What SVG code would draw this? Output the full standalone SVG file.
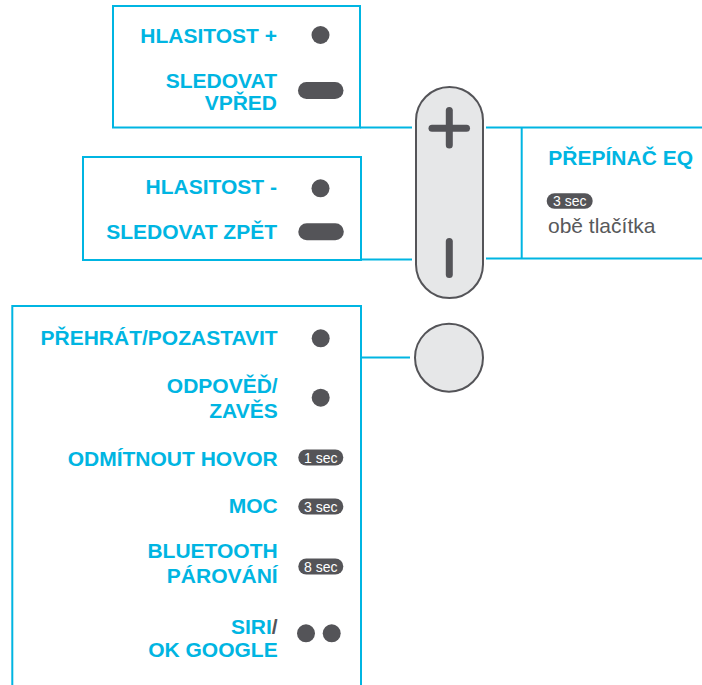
<svg xmlns="http://www.w3.org/2000/svg" width="702" height="685" viewBox="0 0 702 685">
<style>
.lbl{font-family:"Liberation Sans",Arial,sans-serif;font-weight:bold;font-size:21px;fill:#00b5e2;text-anchor:end}
.frame{fill:none;stroke:#00b5e2;stroke-width:2}
.con{fill:none;stroke:#00b5e2;stroke-width:2}
.dot{fill:#545458}
.badge{fill:#545458}
.btxt{font-family:"Liberation Sans",Arial,sans-serif;font-size:14px;fill:#ffffff;text-anchor:middle}
.btn{fill:#e6e7e8;stroke:#545458;stroke-width:2}
.sym{stroke:#545458;stroke-width:7;stroke-linecap:round;fill:none}
</style>
<rect width="702" height="685" fill="#ffffff"/>
<g id="connectors">
<line class="con" x1="360" y1="127.5" x2="412" y2="127.5"/>
<line class="con" x1="361" y1="259.5" x2="412" y2="259.5"/>
<line class="con" x1="486" y1="127.5" x2="702" y2="127.5"/>
<line class="con" x1="486" y1="258.5" x2="702" y2="258.5"/>
<line class="con" x1="361" y1="357.5" x2="410" y2="357.5"/>
</g>
<g id="box-volume-up">
<rect class="frame" x="113" y="6" width="247" height="121.5"/>
<text class="lbl" x="277" y="42.5">HLASITOST +</text>
<circle class="dot" cx="320.5" cy="35" r="9"/>
<text class="lbl" x="277" y="87.5">SLEDOVAT</text>
<text class="lbl" x="277" y="110">VPŘED</text>
<rect class="dot" x="298" y="82" width="45.5" height="17" rx="8.5"/>
</g>
<g id="box-volume-down">
<rect class="frame" x="83" y="157" width="278" height="103"/>
<text class="lbl" x="277" y="194">HLASITOST -</text>
<circle class="dot" cx="320.5" cy="188.3" r="9"/>
<text class="lbl" x="277" y="239.3">SLEDOVAT ZPĚT</text>
<rect class="dot" x="298.3" y="223.3" width="45.5" height="17" rx="8.5"/>
</g>
<g id="box-eq">
<line class="con" x1="521.7" y1="127.5" x2="521.7" y2="258.5"/>
<text class="lbl" x="548.3" y="165" style="text-anchor:start">PŘEPÍNAČ EQ</text>
<rect class="badge" x="546.7" y="193.3" width="46" height="15.5" rx="7.75"/>
<text class="btxt" x="569.7" y="206">3 sec</text>
<text x="548" y="232.7" style="font-family:'Liberation Sans',Arial,sans-serif;font-size:21px;fill:#58595b">obě tlačítka</text>
</g>
<g id="capsule">
<rect class="btn" x="416" y="87" width="67" height="211" rx="33.5"/>
<line class="sym" x1="432" y1="128.3" x2="466.5" y2="128.3"/>
<line class="sym" x1="449.3" y1="110.5" x2="449.3" y2="145"/>
<line class="sym" x1="449.3" y1="241.5" x2="449.3" y2="274.5"/>
</g>
<g id="center-button">
<circle class="btn" cx="449" cy="357.7" r="34"/>
</g>
<g id="box-play">
<polyline class="frame" points="12.3,686 12.3,306 361,306 361,686"/>
<text class="lbl" x="277.7" y="345">PŘEHRÁT/POZASTAVIT</text>
<circle class="dot" cx="320.7" cy="338.3" r="9"/>
<text class="lbl" x="277.7" y="392.7">ODPOVĚĎ/</text>
<text class="lbl" x="277.7" y="417.7">ZAVĚS</text>
<circle class="dot" cx="320.7" cy="397.7" r="9"/>
<text class="lbl" x="277.7" y="465.7">ODMÍTNOUT HOVOR</text>
<rect class="badge" x="298.3" y="449.5" width="45" height="16" rx="8"/>
<text class="btxt" x="320.8" y="462.6">1 sec</text>
<text class="lbl" x="277.7" y="512.7">MOC</text>
<rect class="badge" x="298.3" y="498.5" width="45" height="16" rx="8"/>
<text class="btxt" x="320.8" y="511.6">3 sec</text>
<text class="lbl" x="277.7" y="558.3">BLUETOOTH</text>
<text class="lbl" x="277.7" y="583.3">PÁROVÁNÍ</text>
<rect class="badge" x="298.3" y="558.5" width="45" height="16" rx="8"/>
<text class="btxt" x="320.8" y="571.6">8 sec</text>
<text class="lbl" x="277.7" y="634">SIRI<tspan style="fill:#545458">/</tspan></text>
<text class="lbl" x="277.7" y="657.3">OK GOOGLE</text>
<circle class="dot" cx="306" cy="633.3" r="9"/>
<circle class="dot" cx="331.7" cy="633.3" r="9"/>
</g>
</svg>
